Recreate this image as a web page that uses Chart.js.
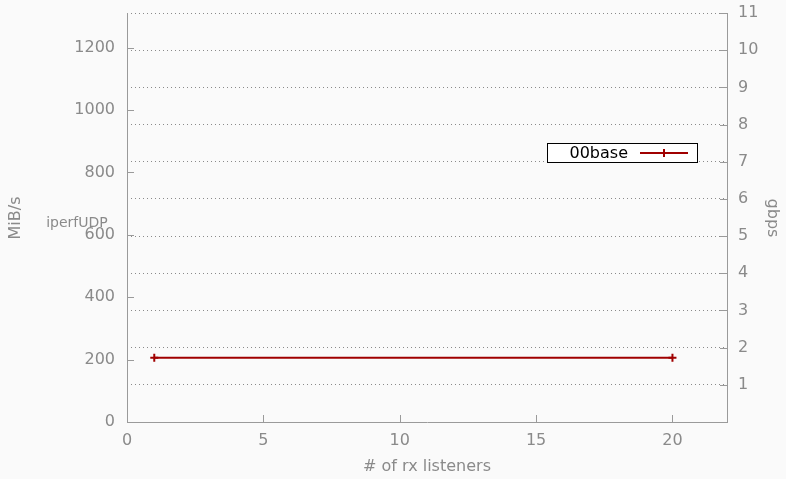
<!DOCTYPE html>
<html>
<head>
<meta charset="utf-8">
<script src="https://cdn.jsdelivr.net/npm/chart.js@4/dist/chart.umd.min.js"></script>
<style>
  html, body { margin: 0; padding: 0; background: #fafafa; }
  #wrap { width: 786px; height: 479px; }
</style>
</head>
<body>
<div id="wrap"><canvas id="c" width="786" height="479"></canvas></div>
<script>
// Throughput of the baseline run, per number of rx listeners
const listeners = [1, 20];
const baseMiBs = [206, 206];
const seriesName = '00base';
const plotLabel = 'iperfUDP';

// Axis ticks
const xTicks = [0, 5, 10, 15, 20];
const mibTicks = [0, 200, 400, 600, 800, 1000, 1200];
const gbpsTicks = [1, 2, 3, 4, 5, 6, 7, 8, 9, 10, 11];

// Left (MiB/s) and right (gbps) axes share the same range
const GBPS_MAX = 11;
const MIB_MAX = GBPS_MAX * 1e9 / 8 / 1048576;

const FONT = '"DejaVu Sans", Verdana, sans-serif';
const TEXT_GREY = '#8a8a8a';
const AXIS_GREY = '#9a9a9a';
const LINE_RED = '#a00000';

// Inward tick marks, axis titles, the free label and the boxed key
const decorations = {
  id: 'decorations',
  afterDraw(chart) {
    const { ctx, chartArea: a, scales } = chart;
    const x = scales.x, yL = scales.yL, yR = scales.yR;
    ctx.save();
    ctx.strokeStyle = AXIS_GREY;
    ctx.lineWidth = 1;
    ctx.beginPath();
    xTicks.forEach(v => {
      const px = Math.round(x.getPixelForValue(v)) + 0.5;
      ctx.moveTo(px, a.bottom); ctx.lineTo(px, a.bottom - 7);
    });
    mibTicks.forEach(v => {
      const py = Math.round(yL.getPixelForValue(v)) + 0.5;
      ctx.moveTo(a.left, py); ctx.lineTo(a.left + 7, py);
    });
    gbpsTicks.forEach(v => {
      const py = Math.round(yR.getPixelForValue(v)) + 0.5;
      ctx.moveTo(a.right, py); ctx.lineTo(a.right - 7, py);
    });
    ctx.stroke();

    ctx.fillStyle = TEXT_GREY;
    ctx.font = '16px ' + FONT;
    ctx.textAlign = 'center';
    ctx.textBaseline = 'middle';
    ctx.fillText('# of rx listeners', (a.left + a.right) / 2, 467);

    ctx.save();
    ctx.translate(16, 218);
    ctx.rotate(-Math.PI / 2);
    ctx.fillText('MiB/s', 0, 0);
    ctx.restore();

    ctx.save();
    ctx.translate(772, 218);
    ctx.rotate(Math.PI / 2);
    ctx.fillText('gbps', 0, 0);
    ctx.restore();

    ctx.font = '14px ' + FONT;
    ctx.fillText(plotLabel, 77, 223);

    // key box
    ctx.font = '16px ' + FONT;
    const bx = 547.5, by = 143.5, bw = 150, bh = 19;
    ctx.fillStyle = '#ffffff';
    ctx.fillRect(bx, by, bw, bh);
    ctx.strokeStyle = '#000000';
    ctx.strokeRect(bx, by, bw, bh);
    ctx.fillStyle = '#000000';
    ctx.textAlign = 'right';
    ctx.fillText(seriesName, 628, by + bh / 2 + 0.5);
    const ly = Math.round(by + bh / 2);
    ctx.strokeStyle = LINE_RED;
    ctx.lineWidth = 2;
    ctx.beginPath();
    ctx.moveTo(640, ly); ctx.lineTo(688, ly);
    ctx.moveTo(664, ly - 4); ctx.lineTo(664, ly + 4);
    ctx.stroke();
    ctx.restore();
  }
};

const tickFont = { family: FONT, size: 16 };
const plain = v => String(v);
const noPad = s => { s.paddingTop = 0; s.paddingBottom = 0; };

new Chart(document.getElementById('c'), {
  type: 'line',
  data: {
    datasets: [{
      label: seriesName,
      data: listeners.map((v, i) => ({ x: v, y: baseMiBs[i] })),
      yAxisID: 'yL',
      borderColor: LINE_RED,
      backgroundColor: LINE_RED,
      borderWidth: 2,
      pointStyle: 'cross',
      pointRadius: 4,
      pointBorderWidth: 2,
      pointHoverRadius: 4,
      fill: false,
      tension: 0
    }]
  },
  options: {
    responsive: false,
    animation: false,
    devicePixelRatio: 1,
    layout: { padding: { top: 13, left: 0, right: 0, bottom: 0 } },
    plugins: { legend: { display: false }, tooltip: { enabled: false }, title: { display: false } },
    scales: {
      x: {
        type: 'linear',
        min: 0, max: 22,
        afterBuildTicks: s => { s.ticks = xTicks.map(v => ({ value: v })); },
        afterFit: s => { s.height = 57; s.paddingLeft = 0; s.paddingRight = 0; },
        grid: { display: false, drawTicks: false },
        border: { display: true, color: AXIS_GREY, width: 1 },
        ticks: { color: TEXT_GREY, font: tickFont, padding: 9, maxRotation: 0, callback: plain }
      },
      yL: {
        type: 'linear', position: 'left',
        min: 0, max: MIB_MAX,
        afterBuildTicks: s => { s.ticks = mibTicks.map(v => ({ value: v })); },
        afterFit: s => { s.width = 127; noPad(s); },
        grid: { display: false, drawTicks: false },
        border: { display: true, color: AXIS_GREY, width: 1 },
        ticks: { color: TEXT_GREY, font: tickFont, padding: 12, callback: plain }
      },
      yR: {
        type: 'linear', position: 'right', display: true,
        min: 0, max: GBPS_MAX,
        afterBuildTicks: s => { s.ticks = gbpsTicks.map(v => ({ value: v })); },
        afterFit: s => { s.width = 59; noPad(s); },
        grid: { display: true, drawTicks: false, drawOnChartArea: true, color: '#8a8a8a', lineWidth: 1 },
        border: { display: true, color: AXIS_GREY, width: 1, dash: [1, 3] },
        ticks: { color: TEXT_GREY, font: tickFont, padding: 11, callback: plain }
      }
    }
  },
  plugins: [decorations]
});
</script>
</body>
</html>
